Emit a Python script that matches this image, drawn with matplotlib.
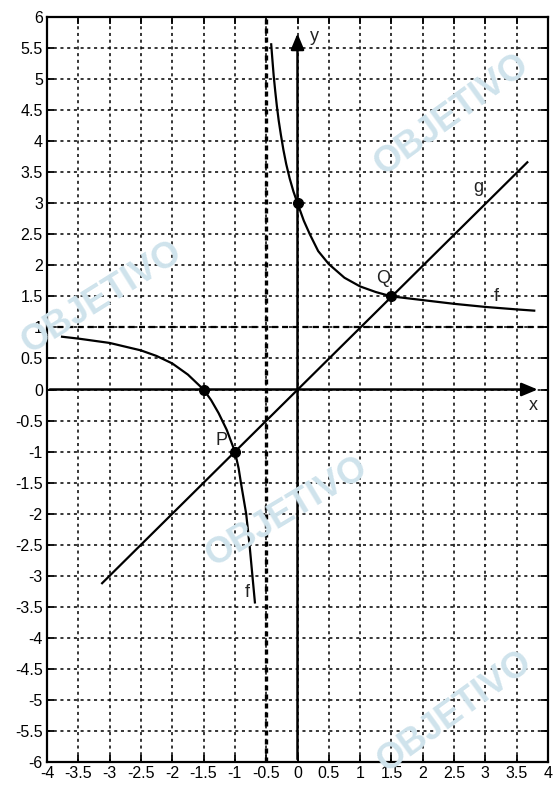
import matplotlib.pyplot as plt
import numpy as np

plt.rcParams['font.family'] = ['Liberation Sans', 'DejaVu Sans']

# points: branches of f, line g, marked points
f_right_x = [-0.42, -0.40, -0.38, -0.355, -0.33, -0.30, -0.265, -0.225, -0.18, -0.125, -0.065, 0.0,
             0.1, 0.197, 0.33, 0.5, 0.75, 1.0, 1.25, 1.5, 2.0, 2.5, 3.0, 3.5, 3.78]
f_right_y = [5.56, 5.3, 5.05, 4.8, 4.57, 4.33, 4.1, 3.86, 3.63, 3.4, 3.19, 3.0,
             2.72, 2.5, 2.23, 2.02, 1.8, 1.66, 1.57, 1.5, 1.44, 1.38, 1.33, 1.29, 1.27]
f_left_x = [-3.76, -3.5, -3.0, -2.5, -2.25, -2.0, -1.75, -1.5, -1.38, -1.26, -1.13, -1.0,
            -0.94, -0.904, -0.82, -0.766, -0.72, -0.68]
f_left_y = [0.85, 0.82, 0.75, 0.63, 0.54, 0.42, 0.24, 0.0, -0.17, -0.38, -0.65, -1.0,
            -1.27, -1.5, -2.0, -2.5, -3.0, -3.43]
g_x = [-3.12, 3.67]
g_y = [-3.12, 3.66]
dots_x = [0, -1.5, -1, 1.5]
dots_y = [3, 0, -1, 1.5]

ticks = np.arange(-4, 4.01, 0.5)
yticks = np.arange(-6, 6.01, 0.5)


def fmt(v):
    if v == int(v):
        return str(int(v))
    return str(v)


fig = plt.figure(figsize=(5.55, 7.91), dpi=100)
ax = fig.add_axes([47 / 555, 29 / 791, 501 / 555, 745 / 791])

# watermarks
wm = '#cfe3ec'
for (px, py, rot) in [(452, 115, 36), (102, 298, 32), (287, 512, 31), (455, 712, 36)]:
    fig.text(px / 555, 1 - py / 791, 'OBJETIVO', color=wm, fontsize=26, fontweight='heavy',
             rotation=rot, ha='center', va='center', zorder=0)

ax.set_facecolor('none')
ax.set_xlim(-4, 4)
ax.set_ylim(-6, 6)
ax.set_xticks(ticks)
ax.set_yticks(yticks)
ax.set_xticklabels([fmt(t) for t in ticks], fontsize=11.5)
ax.set_yticklabels([fmt(t) for t in yticks], fontsize=11.5)
ax.tick_params(direction='in', length=5, width=1.3, top=True, right=True, pad=3)
ax.grid(True, color='black', linestyle=(0, (2, 2.4)), linewidth=1.1)
for s in ax.spines.values():
    s.set_linewidth(1.6)

# asymptotes
ax.axhline(1, color='black', lw=1.6, linestyle=(0, (2.7, 1.9)), zorder=2)
ax.axvline(-0.5, color='black', lw=2.4, linestyle=(0, (1.5, 1.2)), zorder=2)

# coordinate axes with arrows
ax.annotate('', xy=(3.88, 0), xytext=(-4, 0),
            arrowprops=dict(arrowstyle='-|>,head_length=0.6,head_width=0.25', lw=1.8,
                            color='black', mutation_scale=16))
ax.annotate('', xy=(0, 5.78), xytext=(0, -6),
            arrowprops=dict(arrowstyle='-|>,head_length=0.6,head_width=0.25', lw=1.8,
                            color='black', mutation_scale=16))

ax.plot(f_right_x, f_right_y, color='black', lw=1.6, zorder=3)
ax.plot(f_left_x, f_left_y, color='black', lw=1.6, zorder=3)
ax.plot(g_x, g_y, color='black', lw=1.6, zorder=3)
ax.plot(dots_x, dots_y, 'o', color='black', markersize=7, zorder=4)

lab = dict(fontsize=13, color='#222222', ha='center', va='center')
ax.text(0.27, 5.69, 'y', **lab)
ax.text(3.77, -0.26, 'x', **lab)
ax.text(2.88, 3.26, 'g', **lab)
ax.text(3.18, 1.5, 'f', **lab)
ax.text(-0.8, -3.27, 'f', **lab)
ax.text(-1.21, -0.82, 'P', **lab)
ax.text(1.37, 1.78, 'Q', **lab)

fig.savefig('out.png', dpi=100)
